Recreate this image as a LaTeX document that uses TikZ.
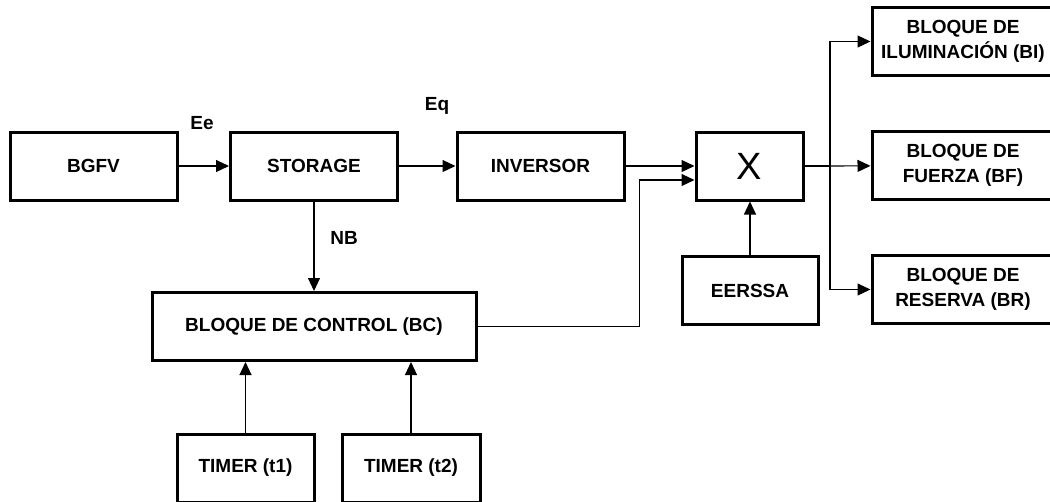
\documentclass[tikz,border=0pt]{standalone}
\usepackage{fontspec}
\setmainfont{Liberation Sans}
\usetikzlibrary{arrows.meta, positioning, calc}

\begin{document}
\begin{tikzpicture}[x=1pt, y=-1pt, font=\fontsize{19}{25}\selectfont\bfseries,
    block/.style={draw, line width=3pt, minimum width=#1, minimum height=68pt,
                  inner sep=0pt, align=center},
    block/.default=167pt,
    flow/.style={line width=1.1pt, -{Triangle[length=13pt, width=12pt]}},
    wire/.style={line width=1.1pt}]
  \useasboundingbox (0,0) rectangle (1050,501);
  \clip (0,0) rectangle (1050,501);
  % top row
  \node[block] (bgfv) at (93.5,166) {BGFV};
  \node[block] (storage) at (314,166) {STORAGE};
  \node[block] (inversor) at (540.5,166) {INVERSOR};
  \node[block=107pt, font=\fontsize{38}{40}\selectfont\mdseries] (mult) at (749.5,166) {X};
  % loads on the right
  \node[block=182pt] (ilum) at (963,41.5) {BLOQUE DE\\ILUMINACIÓN (BI)};
  \node[block=182pt] (fuerza) at (963,165.5) {BLOQUE DE\\FUERZA (BF)};
  \node[block=182pt] (reserva) at (963,289.5) {BLOQUE DE\\RESERVA (BR)};
  \node[block=136pt] (eerssa) at (750,290.5) {EERSSA};
  % control part
  \node[block=324pt] (control) at (314,326.5) {BLOQUE DE CONTROL (BC)};
  \node[block=137pt] (timer1) at (245.5,468) {TIMER (t1)};
  \node[block=138pt] (timer2) at (411,468) {TIMER (t2)};
  % signal names
  \node (ee) at (202,123) {Ee};
  \node (eq) at (437,106) {Eq};
  \node (nb) at (344,238) {NB};
  % connectors
  \draw[flow] (bgfv) -- (storage);
  \draw[flow] (storage) -- (inversor);
  \draw[flow] (inversor) -- (mult);
  \draw[flow] (storage) -- (control);
  \draw[flow] (timer1) -- (timer1 |- control.south);
  \draw[flow] (timer2) -- (timer2 |- control.south);
  \draw[flow] (eerssa.north) -- (eerssa.north |- mult.south);
  \coordinate (mixin) at ($(mult.west)+(0,14)$);
  \draw[flow] (control.east) -| ($(mixin)+(-55,0)$) -- (mixin);
  \coordinate (split) at (830,166);
  \draw[wire] (mult) -- (split);
  \draw[flow] (split) |- (ilum);
  \draw[flow] (split) -- (fuerza);
  \draw[flow] (split) |- (reserva);
\end{tikzpicture}
\end{document}
